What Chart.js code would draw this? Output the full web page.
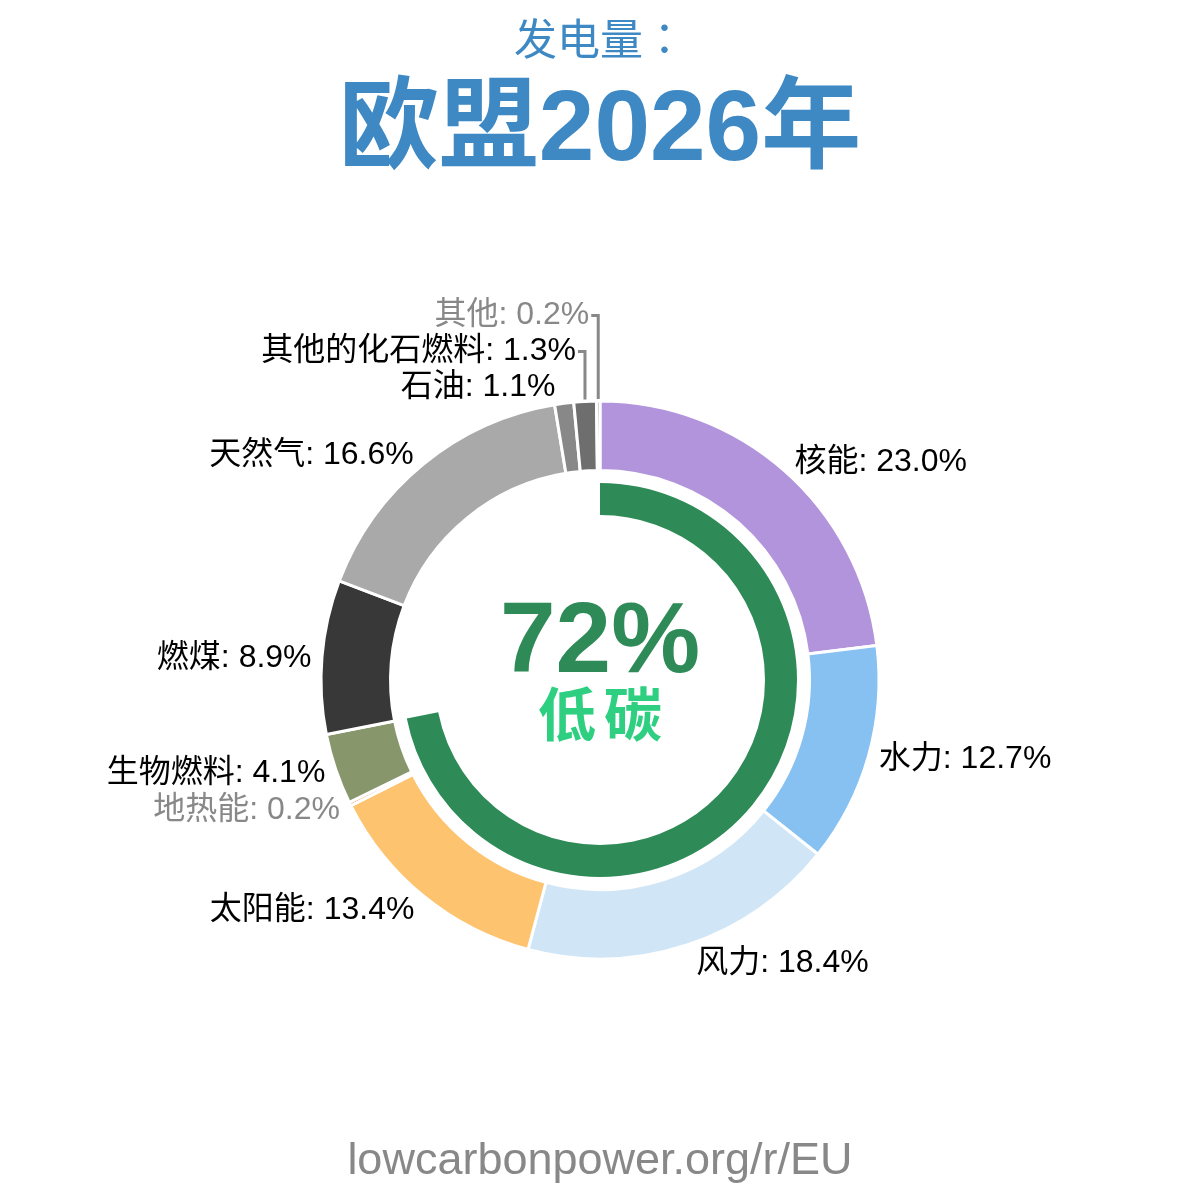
<!DOCTYPE html>
<html>
<head>
<meta charset="utf-8">
<script src="https://cdn.jsdelivr.net/npm/chart.js@4"></script>
<style>
  html, body { margin:0; padding:0; background:#fff; }
  #wrap { position:relative; width:1200px; height:1200px; overflow:hidden; font-family:"Liberation Sans","Noto Sans CJK SC",sans-serif; }
  canvas { position:absolute; left:0; top:0; }
  .t { position:absolute; left:0; width:1200px; text-align:center; white-space:nowrap; }
</style>
</head>
<body>
<div id="wrap">
  <canvas id="c" width="1200" height="1200"></canvas>
  <div class="t" style="top:18.6px;font-size:43px;line-height:43px;color:#3e89c4;font-family:'Noto Sans CJK JP','Noto Sans CJK SC',sans-serif;"><span style="position:relative;top:-4px;">发电量：</span></div>
  <div class="t" style="top:75px;font-size:100px;line-height:100px;font-weight:bold;color:#3e89c4;">欧盟2026年</div>
  <div class="t" style="top:587px;font-size:100px;line-height:100px;font-weight:bold;color:#2e8b57;">72%</div>
  <div class="t" style="top:687px;font-size:58px;line-height:58px;font-weight:bold;color:#2ecf80;letter-spacing:8px;text-indent:8px;">低碳</div>
  <div class="t" style="top:1136px;font-size:45px;line-height:45px;color:#888888;">lowcarbonpower.org/r/EU</div>
</div>
<script>
// ---- data ----
const categories = ["核能","水力","风力","太阳能","地热能","生物燃料","燃煤","天然气","石油","其他的化石燃料","其他"];
const shares     = [23.0, 12.7, 18.4, 13.4, 0.2, 4.1, 8.9, 16.6, 1.1, 1.3, 0.2];
const lowCarbon  = [true, true, true, true, true, true, false, false, false, false, false];
const sliceColors = ["#b294dc","#87c1f2","#d0e6f7","#fec36e","#e0793e","#88966c","#383838","#a9a9a9","#888888","#6e6e6e","#9a9a9a"];

const lowSum = shares.reduce((a, v, i) => a + (lowCarbon[i] ? v : 0), 0);
const total = shares.reduce((a, v) => a + v, 0);

const labelPlugin = {
  id: 'sliceLabels',
  afterDatasetsDraw(chart) {
    const ctx = chart.ctx;
    const meta = chart.getDatasetMeta(0);
    const lineH = 36;
    const labR = 281;
    let prevLeftY = null, prevRightY = null;
    ctx.save();
    ctx.font = '32px "Liberation Sans","Noto Sans CJK SC",sans-serif';
    ctx.textBaseline = 'middle';
    meta.data.forEach((arc, i) => {
      const p = arc.getProps(['x','y','startAngle','endAngle','outerRadius'], true);
      const mid = (p.startAngle + p.endAngle) / 2;
      const cx = Math.cos(mid), sy = Math.sin(mid);
      const left = cx < 0;
      let lx = p.x + labR * cx + (left ? -8.4 : 8.4);
      let ly = p.y + labR * sy + 16 * sy * Math.abs(sy) + 2;
      let leader = false;
      if (left) {
        if (prevLeftY !== null && ly > prevLeftY - lineH) { ly = prevLeftY - lineH; leader = true; }
        prevLeftY = ly;
      } else {
        if (prevRightY !== null && ly < prevRightY + lineH) { ly = prevRightY + lineH; leader = true; }
        prevRightY = ly;
      }
      const text = categories[i] + ': ' + shares[i].toFixed(1) + '%';
      ctx.fillStyle = shares[i] < 0.5 ? '#888888' : '#000000';
      if (leader) {
        const ax = p.x + (p.outerRadius + 2) * cx;
        const ay = p.y + (p.outerRadius + 2) * sy;
        ctx.strokeStyle = '#888888';
        ctx.lineWidth = 3;
        ctx.beginPath();
        ctx.moveTo(ax, ay);
        ctx.lineTo(ax, ly);
        ctx.lineTo(left ? ax - 7 : ax + 7, ly);
        ctx.stroke();
        lx = left ? ax - 9 : ax + 9;
      }
      ctx.textAlign = left ? 'right' : 'left';
      ctx.fillText(text, lx, ly);
    });
    ctx.restore();
  }
};

new Chart(document.getElementById('c'), {
  type: 'doughnut',
  data: {
    labels: categories,
    datasets: [
      { data: shares, backgroundColor: sliceColors, borderColor: '#ffffff', borderWidth: 3, weight: 69.5 },
      { data: [1], backgroundColor: 'rgba(0,0,0,0)', borderWidth: 0, weight: 12.5 },
      { data: [lowSum, total - lowSum], backgroundColor: ['#2e8b57', 'rgba(0,0,0,0)'], borderWidth: 0, weight: 32 }
    ]
  },
  options: {
    responsive: false,
    animation: false,
    radius: 279,
    cutout: '59.14%',
    layout: { padding: { top: 160, bottom: 0, left: 0, right: 0 } },
    plugins: { legend: { display: false }, tooltip: { enabled: false } },
    events: []
  },
  plugins: [labelPlugin]
});
</script>
</body>
</html>
